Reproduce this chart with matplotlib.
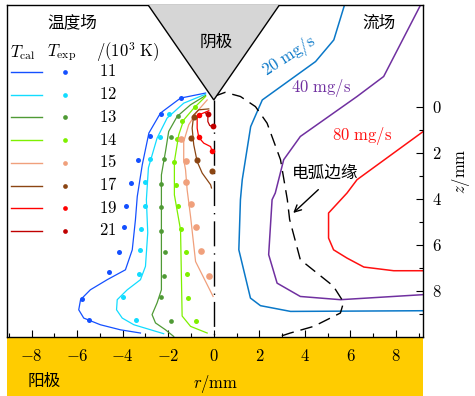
import matplotlib
matplotlib.use("Agg")
import matplotlib.pyplot as plt
from matplotlib.patches import Polygon, Rectangle

plt.rcParams['font.family'] = ['Noto Sans CJK SC', 'DejaVu Sans']
plt.rcParams['mathtext.fontset'] = 'cm'

# ---- temperature field (left), r in mm, z in mm ----
levels = ["11", "12", "13", "14", "15", "17", "19", "21"]
colors = ["#1450ff", "#12dcff", "#4f9a35", "#7ef000", "#f0a07c", "#8b4513", "#ff0000", "#c00000"]
dot_sizes = [3.6, 3.6, 3.4, 3.6, 4.8, 4.4, 4.0, 4.2]

cal_11_r = [-0.36, -1.46, -2.34, -2.85, -3.14, -3.36, -3.44, -3.58, -3.88, -4.68, -5.42, -5.85, -5.93, -5.71, -4.98, -4.10, -3.22]
cal_11_z = [-0.60, -0.38, 0.27, 1.14, 2.52, 3.90, 4.91, 6.22, 7.09, 7.52, 7.96, 8.39, 8.83, 9.19, 9.48, 9.70, 9.84]
exp_11_r = [-1.42, -2.31, -2.81, -3.32, -3.63, -3.85, -3.95, -4.17, -4.58, -5.78, -5.46]
exp_11_z = [-0.38, 0.30, 1.25, 2.33, 3.32, 4.33, 5.23, 6.32, 7.19, 8.35, 9.26]

cal_12_r = [-0.36, -1.32, -2.05, -2.49, -2.87, -2.96, -2.90, -3.00, -3.22, -3.80, -4.24, -4.27, -4.02, -3.51, -2.20]
cal_12_z = [-0.55, -0.16, 0.49, 1.36, 2.65, 4.04, 5.48, 6.94, 7.52, 7.96, 8.39, 8.83, 9.19, 9.48, 9.87]
exp_12_r = [-1.98, -2.34, -2.81, -3.04, -3.04, -3.19, -3.25, -3.28, -3.98, -3.41]
exp_12_z = [0.30, 1.32, 2.27, 3.25, 4.30, 5.30, 6.25, 7.26, 8.29, 9.26]

cal_13_r = [-0.36, -1.02, -1.61, -1.98, -2.12, -2.30, -2.30, -2.49, -2.71, -2.56, -2.12, -1.76]
cal_13_z = [-0.49, -0.09, 0.42, 1.07, 1.94, 2.96, 7.96, 8.53, 9.04, 9.40, 9.70, 9.99]
exp_13_r = [-1.58, -1.90, -2.20, -2.31, -2.31, -2.31, -2.15, -2.20, -2.31, -1.87]
exp_13_z = [0.38, 1.33, 2.26, 3.36, 4.36, 5.39, 6.33, 7.35, 8.29, 9.33]

cal_14_r = [-0.36, -0.88, -1.32, -1.54, -1.73, -1.73, -1.46, -1.39, -1.02, -0.29]
cal_14_z = [-0.45, 0.06, 0.57, 1.22, 2.38, 3.83, 5.35, 9.10, 9.55, 9.84]
exp_14_r = [-0.83, -1.39, -1.61, -1.73, -1.68, -1.58, -1.46, -1.24, -1.17, -1.14, -0.77]
exp_14_z = [0.01, 0.60, 1.40, 2.40, 3.39, 4.30, 5.33, 6.33, 7.27, 8.31, 9.33]

cal_15_r = [-0.29, -0.73, -1.10, -1.32, -1.32, -1.24, -1.17, -1.02, -0.80, -0.03]
cal_15_z = [-0.30, 0.20, 0.78, 1.51, 2.30, 2.74, 3.61, 4.77, 6.73, 8.25]
exp_15_r = [-1.42, -1.24, -1.21, -0.98, -0.80, -0.58, -0.20]
exp_15_z = [1.40, 2.35, 3.29, 4.23, 5.23, 6.28, 7.34]

cal_17_r = [-0.22, -0.66, -0.88, -0.95, -0.88, -0.73, -0.51, -0.14, -0.10]
cal_17_z = [0.09, 0.13, 0.35, 0.93, 1.65, 2.38, 2.88, 3.39, 3.53]
exp_17_r = [-0.88, -1.02, -0.73, -0.07]
exp_17_z = [0.45, 1.36, 2.30, 2.78]

cal_19_r = [-0.22, -0.58, -0.73, -0.73, -0.66, -0.44, -0.14, -0.07]
cal_19_z = [0.17, 0.32, 0.49, 0.93, 1.33, 1.58, 1.73, 1.94]
exp_19_r = [-0.66, -0.63, -0.07]
exp_19_z = [0.35, 1.32, 1.94]

cal_21_r = [-0.36, -0.26, -0.26, -0.18, -0.06]
cal_21_z = [0.27, 0.38, 0.64, 0.81, 0.86]
exp_21_r = [-0.26, -0.04]
exp_21_z = [0.32, 0.83]

cal_r = [cal_11_r, cal_12_r, cal_13_r, cal_14_r, cal_15_r, cal_17_r, cal_19_r, cal_21_r]
cal_z = [cal_11_z, cal_12_z, cal_13_z, cal_14_z, cal_15_z, cal_17_z, cal_19_z, cal_21_z]
exp_r = [exp_11_r, exp_12_r, exp_13_r, exp_14_r, exp_15_r, exp_17_r, exp_19_r, exp_21_r]
exp_z = [exp_11_z, exp_12_z, exp_13_z, exp_14_z, exp_15_z, exp_17_z, exp_19_z, exp_21_z]

# ---- flow field (right) ----
flow_labels = ["20 mg/s", "40 mg/s", "80 mg/s"]
flow_colors = ["#0a78c8", "#7030a0", "#ff1010"]
flow_20_r = [5.74, 5.27, 4.47, 2.13, 1.62, 1.25, 1.17, 1.10, 1.61, 2.05, 3.37, 9.20]
flow_20_z = [-4.43, -2.91, -1.97, -0.30, 0.86, 3.17, 4.04, 6.22, 8.32, 8.65, 8.90, 8.87]
flow_40_r = [9.08, 7.46, 6.29, 3.80, 3.07, 2.70, 2.56, 2.41, 2.78, 3.80, 5.56, 9.20]
flow_40_z = [-4.43, -1.32, -0.45, 1.29, 2.30, 3.75, 4.04, 6.43, 7.67, 8.25, 8.39, 8.17]
flow_80_r = [9.20, 6.29, 5.85, 5.04, 5.04, 5.26, 5.85, 6.59, 7.90, 9.20]
flow_80_z = [1.07, 3.17, 3.75, 4.62, 5.71, 6.22, 6.58, 6.97, 7.13, 7.13]

arc_r = [0.0, 0.5, 1.17, 1.83, 2.34, 2.93, 3.23, 3.33, 3.80, 5.25, 5.70, 5.56, 4.39, 3.36, 2.90]
arc_z = [-0.45, -0.63, -0.45, -0.01, 0.71, 2.30, 4.04, 4.90, 6.65, 7.80, 8.50, 8.97, 9.55, 9.84, 9.99]

xticks = [-8, -6, -4, -2, 0, 2, 4, 6, 8]
xtick_labels = ["$-8$", "$-6$", "$-4$", "$-2$", "$0$", "$2$", "$4$", "$6$", "$8$"]
yticks = [0, 2, 4, 6, 8]
ytick_labels = ["$0$", "$2$", "$4$", "$6$", "$8$"]

W, H = 475, 396
fig = plt.figure(figsize=(W / 100, H / 100), dpi=100)
ax = fig.add_axes([7 / W, 1 - 336.7 / H, 416.3 / W, 331.7 / H])
ax.set_xlim(-9.08, 9.2)
ax.set_ylim(10, -4.43)

# anode band
fig.patches.append(Rectangle((7 / W, 0), 416.3 / W, 1 - 336.7 / H, transform=fig.transFigure,
                             facecolor="#ffcc00", edgecolor="none", zorder=-1))

# cathode
ax.add_patch(Polygon([(-3.0, -4.6), (3.0, -4.6), (0, -0.3)], closed=True, facecolor="#d6d6d6",
                     edgecolor="black", lw=1.0, zorder=4))
ax.text(0.1, -2.8, "阴极", fontsize=12, ha="center", va="center", zorder=5)

# axis line r = 0
ax.plot([0, 0], [-0.3, 10], color="black", lw=1.0, ls=(0, (18, 5, 1, 5)), zorder=1)

for i in range(len(levels)):
    ax.plot(cal_r[i], cal_z[i], color=colors[i], lw=0.9, zorder=2)
    ax.plot(exp_r[i], exp_z[i], ls="none", marker="o", ms=dot_sizes[i], color=colors[i],
            mec="none", zorder=3)

flow_r = [flow_20_r, flow_40_r, flow_80_r]
flow_z = [flow_20_z, flow_40_z, flow_80_z]
for r, z, c in zip(flow_r, flow_z, flow_colors):
    ax.plot(r, z, color=c, lw=1.1, zorder=2)

ax.plot(arc_r, arc_z, color="black", lw=1.0, ls=(0, (9, 5)), zorder=2)

ax.text(3.29, -2.19, r"$20\ \mathrm{mg/s}$", color=flow_colors[0], fontsize=12, rotation=33,
        ha="center", va="center")
ax.text(4.69, -0.81, r"$40\ \mathrm{mg/s}$", color=flow_colors[1], fontsize=12, ha="center", va="center")
ax.text(6.52, 1.29, r"$80\ \mathrm{mg/s}$", color=flow_colors[2], fontsize=12, ha="center", va="center")
ax.text(7.25, -3.63, "流场", fontsize=12, ha="center", va="center")
ax.text(4.87, 2.88, "电弧边缘", fontsize=12, ha="center", va="center")
ax.annotate("", xy=(3.4, 4.7), xytext=(4.68, 3.52),
            arrowprops=dict(arrowstyle="->", color="black", lw=1.0, mutation_scale=12))

# legend (temperature field)
def fx(px):
    return (px - 7) / 416.3

def fy(py):
    return 1 - (py - 5) / 331.7

ax.text(fx(72.7), fy(23), "温度场", fontsize=12, ha="center", va="center", transform=ax.transAxes)
ax.text(fx(10), fy(53), r"$T_{\mathrm{cal}}$", fontsize=12, ha="left", va="center", transform=ax.transAxes)
ax.text(fx(47), fy(53), r"$T_{\mathrm{exp}}$", fontsize=12, ha="left", va="center", transform=ax.transAxes)
ax.text(fx(96), fy(52), r"$/(10^3\ \mathrm{K})$", fontsize=12, ha="left", va="center", transform=ax.transAxes)
for i, (lab, c) in enumerate(zip(levels, colors)):
    yy = fy(72 + 22.7 * i)
    ax.plot([fx(11), fx(41.7)], [yy, yy], color=c, lw=1.0, transform=ax.transAxes)
    ax.plot([fx(65)], [yy], marker="o", ms=3.4, color=c, mec="none", transform=ax.transAxes)
    ax.text(fx(99), yy, "$" + lab + "$", fontsize=12, ha="left", va="center", transform=ax.transAxes)

# axes, ticks
ax.yaxis.tick_right()
ax.yaxis.set_label_position("right")
ax.set_xticks(xticks)
ax.set_xticklabels(xtick_labels)
ax.set_xticks(range(-9, 10, 2), minor=True)
ax.set_yticks(yticks)
ax.set_yticklabels(ytick_labels)
ax.set_yticks([1, 3, 5, 7, 9], minor=True)
ax.tick_params(which="both", direction="in", top=False, left=False, right=True, bottom=True,
               labelsize=12, width=0.8)
ax.tick_params(axis="x", which="major", length=5, pad=8)
ax.tick_params(axis="y", which="major", length=5, pad=6)
ax.tick_params(which="minor", length=3)
for s in ax.spines.values():
    s.set_linewidth(1.0)

ax.set_xlabel(r"$r/\mathrm{mm}$", fontsize=12, labelpad=6)
ax.set_ylabel(r"$z/\mathrm{mm}$", fontsize=12, labelpad=6, rotation=90)
ax.text(fx(44), -0.135, "阳极", fontsize=12, ha="center", va="center", transform=ax.transAxes)

fig.savefig("out.png", dpi=100)
